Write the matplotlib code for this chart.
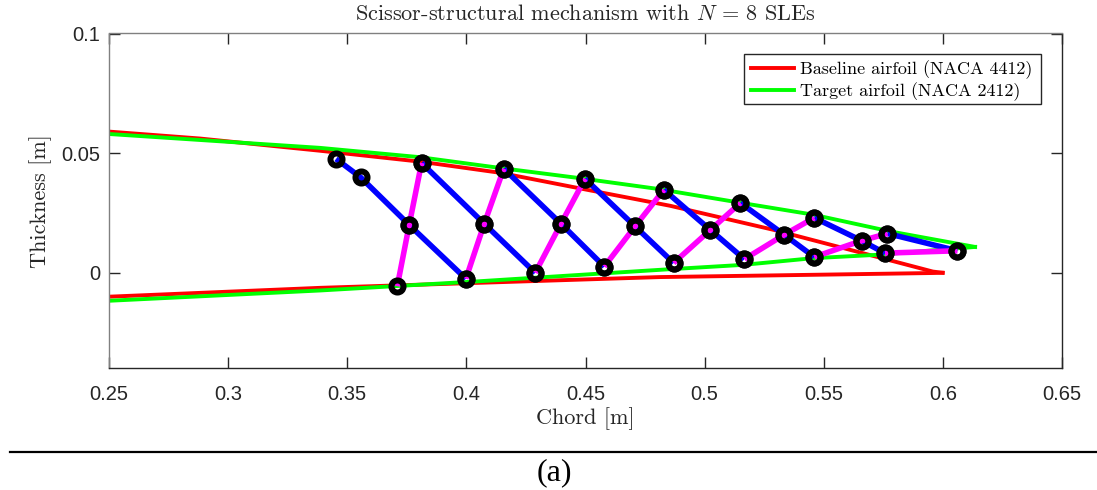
import matplotlib
matplotlib.use("Agg")
import matplotlib.pyplot as plt
from matplotlib.lines import Line2D
from matplotlib.patches import Rectangle

plt.rcParams['font.family'] = ['cmr10', 'DejaVu Sans']
plt.rcParams['mathtext.fontset'] = 'cm'
plt.rcParams['axes.formatter.use_mathtext'] = True

# airfoil outlines
red_top_x = [0.25, 0.2882, 0.3386, 0.3810, 0.4141, 0.4506, 0.4855, 0.5287, 0.5610, 0.5958, 0.5999]
red_top_y = [0.0590, 0.0561, 0.0510, 0.0464, 0.0418, 0.0347, 0.0280, 0.0180, 0.0096, 0.0005, 0.0]
red_bot_x = [0.25, 0.3386, 0.4812, 0.5958, 0.5999]
red_bot_y = [-0.0100, -0.0063, -0.0018, -0.0001, 0.0]
green_top_x = [0.25, 0.3386, 0.3806, 0.4157, 0.4464, 0.4800, 0.5148, 0.5455, 0.5778, 0.6135]
green_top_y = [0.0580, 0.0522, 0.0483, 0.0436, 0.0397, 0.0351, 0.0293, 0.0243, 0.0173, 0.0108]
green_bot_x = [0.25, 0.3386, 0.4045, 0.4855, 0.5161, 0.5455, 0.5724, 0.6135]
green_bot_y = [-0.0117, -0.0074, -0.0036, 0.0015, 0.0033, 0.0061, 0.0075, 0.0108]

# scissor links, each one is top / middle / bottom joint
blue_x = [[0.3453, 0.3556, 0.3760, 0.3998], [0.3812, 0.4075, 0.4289], [0.4157, 0.4397, 0.4579],
          [0.4498, 0.4708, 0.4870], [0.4829, 0.5024, 0.5167], [0.5150, 0.5334, 0.5460],
          [0.5460, 0.5659, 0.5757], [0.5767, 0.6061]]
blue_y = [[0.0476, 0.0399, 0.0200, -0.0025], [0.0459, 0.0205, 0.0], [0.0435, 0.0205, 0.0026],
          [0.0393, 0.0194, 0.0041], [0.0347, 0.0179, 0.0057], [0.0292, 0.0159, 0.0066],
          [0.0230, 0.0134, 0.0082], [0.0164, 0.0092]]
magenta_x = [[0.3710, 0.3760, 0.3812], [0.3998, 0.4075, 0.4157], [0.4289, 0.4397, 0.4498],
             [0.4579, 0.4708, 0.4829], [0.4870, 0.5024, 0.5150], [0.5167, 0.5334, 0.5460],
             [0.5460, 0.5659, 0.5767], [0.5757, 0.6061]]
magenta_y = [[-0.0056, 0.0200, 0.0459], [-0.0025, 0.0205, 0.0435], [0.0, 0.0205, 0.0393],
             [0.0026, 0.0194, 0.0347], [0.0041, 0.0179, 0.0292], [0.0057, 0.0159, 0.0230],
             [0.0066, 0.0134, 0.0164], [0.0082, 0.0092]]

x_ticks = [0.25, 0.3, 0.35, 0.4, 0.45, 0.5, 0.55, 0.6, 0.65]
x_tick_labels = ['0.25', '0.3', '0.35', '0.4', '0.45', '0.5', '0.55', '0.6', '0.65']
y_ticks = [0, 0.05, 0.1]
y_tick_labels = ['0', '0.05', '0.1']

fig = plt.figure(figsize=(10.97, 4.90), dpi=100)
ax = fig.add_axes([109 / 1097, 1 - 368 / 490, 953 / 1097, 334.5 / 490])

line_red, = ax.plot(red_top_x, red_top_y, color='#ff0000', lw=2.8, label='Baseline airfoil (NACA 4412)')
ax.plot(red_bot_x, red_bot_y, color='#ff0000', lw=2.8)
line_green, = ax.plot(green_top_x, green_top_y, color='#00ff00', lw=2.8, label='Target airfoil (NACA 2412)')
ax.plot(green_bot_x, green_bot_y, color='#00ff00', lw=2.8)

for xs, ys in zip(blue_x, blue_y):
    ax.plot(xs, ys, color='#0000ff', lw=4, solid_capstyle='butt')
for xs, ys in zip(magenta_x, magenta_y):
    ax.plot(xs, ys, color='#ff00ff', lw=4, solid_capstyle='butt')
for xs, ys in zip(blue_x + magenta_x, blue_y + magenta_y):
    ax.plot(xs, ys, ls='none', marker='o', ms=8.7, mfc='none', mec='black', mew=4.3)

ax.set_xlim(0.25, 0.65)
ax.set_ylim(-0.0398, 0.1)
ax.set_xticks(x_ticks, x_tick_labels, fontfamily='Liberation Sans', fontsize=14.5)
ax.set_yticks(y_ticks, y_tick_labels, fontfamily='Liberation Sans', fontsize=14.5)
ax.tick_params(axis='x', direction='in', top=True, length=8, width=1, color='#262626',
               labelcolor='#262626', pad=12)
ax.tick_params(axis='y', direction='in', right=True, length=8, width=1, color='#262626',
               labelcolor='#262626', pad=6.5)
ax.spines['left'].set_color('#808080')
ax.spines['top'].set_color('#808080')
ax.spines['right'].set_color('#262626')
ax.spines['bottom'].set_color('#262626')
for s in ax.spines.values():
    s.set_linewidth(1)

ax.set_title(r'Scissor-structural mechanism with $N\,=\,8$ SLEs', fontsize=16, pad=10, color='#262626')
ax.set_xlabel('Chord [m]', fontsize=16, labelpad=2.5, color='#262626')
ax.set_ylabel('Thickness [m]', fontsize=16, labelpad=6.5, color='#262626')

# legend frame drawn by hand, the text sits a bit high in the matplotlib one
ax.add_patch(Rectangle((635 / 953, 1 - 70.5 / 334.5), 297 / 953, 50 / 334.5, transform=ax.transAxes,
                       fc='white', ec='#262626', lw=1, zorder=4.5))
leg = ax.legend(handles=[line_red, line_green], loc='upper left', bbox_to_anchor=(635.5 / 953, 1 - 20.5 / 334.5),
                borderaxespad=0, fontsize=13, frameon=False,
                handlelength=2.4, handletextpad=0.3, labelspacing=0.2, borderpad=0.35)

# caption below the plot
fig.add_artist(Line2D([10 / 1097, 1], [1 - 452 / 490, 1 - 452 / 490], color='black', lw=1.6))
fig.text(554 / 1097, 1 - 473 / 490, '(a)', family='Liberation Serif', fontsize=23, ha='center', va='center')

fig.savefig('out.png', dpi=100)
